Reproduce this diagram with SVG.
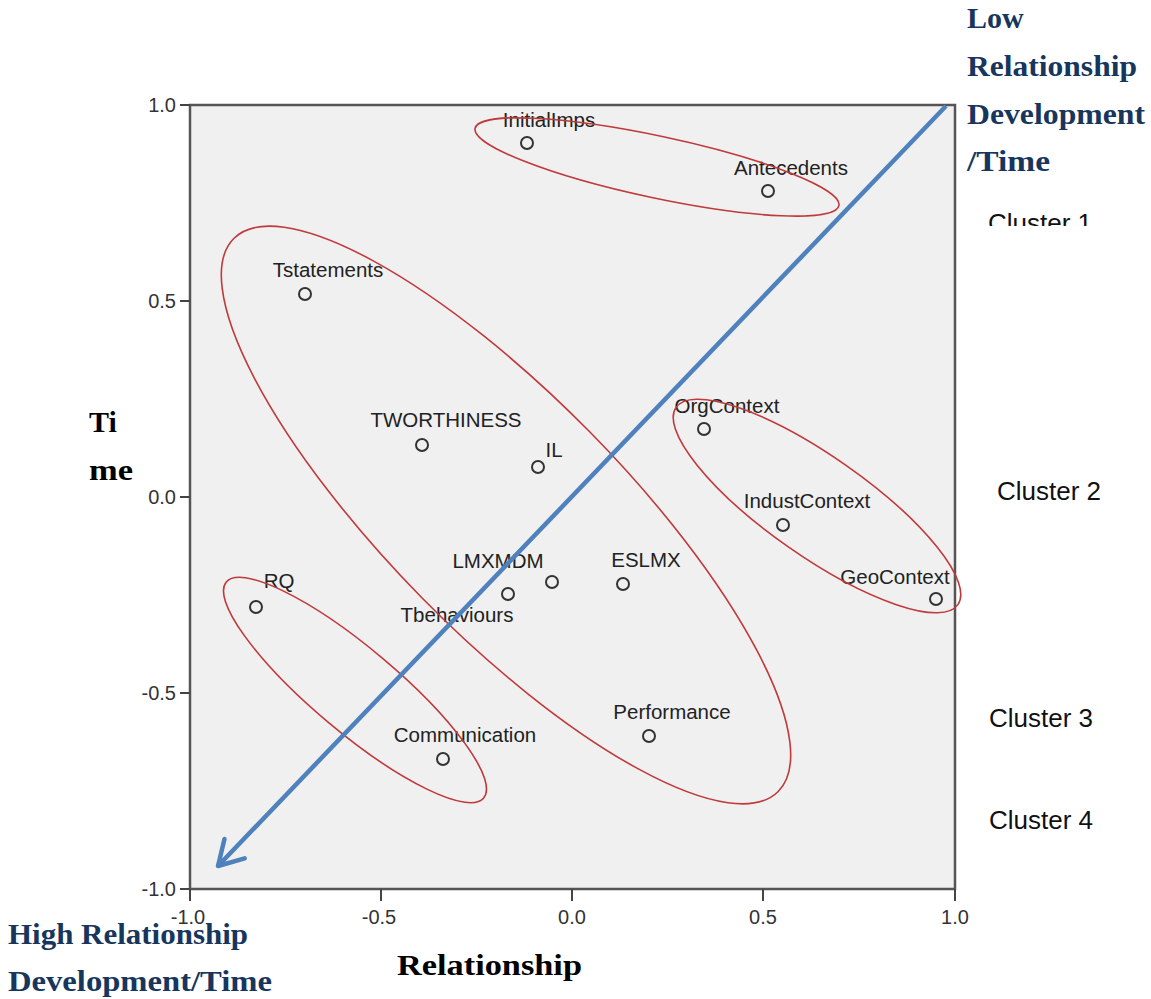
<svg xmlns="http://www.w3.org/2000/svg" width="1151" height="999" viewBox="0 0 1151 999">
<style>
.lbl{font-family:"Liberation Sans",Arial,sans-serif;font-size:20.5px;fill:#222;text-anchor:middle}
.tick{font-family:"Liberation Sans",Arial,sans-serif;font-size:20px;fill:#333}
.pt{fill:none;stroke:#333;stroke-width:2}
.ell{fill:none;stroke:#c0393b;stroke-width:1.6}
.hdr{font-family:"Liberation Serif","Times New Roman",serif;font-weight:bold;font-size:30px;fill:#17365d}
.ttl{font-family:"Liberation Serif","Times New Roman",serif;font-weight:bold;font-size:30px;fill:#000}
.cl{font-family:"Liberation Sans",Arial,sans-serif;font-size:26px;fill:#111}
.ax{stroke:#444;stroke-width:2}
</style>
<defs>
<marker id="ah" markerUnits="userSpaceOnUse" markerWidth="40" markerHeight="40" refX="0" refY="0" viewBox="-30 -20 40 40" orient="auto">
<path d="M-24,-14 L0,0 L-24,14" fill="none" stroke="#4f81bd" stroke-width="4.5" stroke-linecap="round" stroke-linejoin="round"/>
</marker>
<clipPath id="c1"><rect x="960" y="190" width="191" height="36"/></clipPath>
</defs>
<rect width="1151" height="999" fill="#fff"/>
<g id="plot">
<rect x="190" y="105" width="765" height="784" fill="#f0f0f0" stroke="#555" stroke-width="2.5"/>
<g class="ax">
<line x1="180" y1="105" x2="190" y2="105"/>
<line x1="180" y1="301" x2="190" y2="301"/>
<line x1="180" y1="497" x2="190" y2="497"/>
<line x1="180" y1="693" x2="190" y2="693"/>
<line x1="180" y1="889" x2="190" y2="889"/>
<line x1="190" y1="889" x2="190" y2="901"/>
<line x1="381" y1="889" x2="381" y2="901"/>
<line x1="572" y1="889" x2="572" y2="901"/>
<line x1="763" y1="889" x2="763" y2="901"/>
<line x1="955" y1="889" x2="955" y2="901"/>
</g>
<g class="tick" text-anchor="end">
<text x="176" y="112">1.0</text>
<text x="176" y="308">0.5</text>
<text x="176" y="504">0.0</text>
<text x="176" y="700">-0.5</text>
<text x="176" y="896">-1.0</text>
</g>
<g class="tick" text-anchor="middle">
<text x="188" y="924">-1.0</text>
<text x="379" y="924">-0.5</text>
<text x="572" y="924">0.0</text>
<text x="763" y="924">0.5</text>
<text x="955" y="924">1.0</text>
</g>
</g>
<g id="points">
<g id="InitialImps"><circle class="pt" cx="527" cy="143" r="6"/><text class="lbl" x="549" y="127">InitialImps</text></g>
<g id="Antecedents"><circle class="pt" cx="768" cy="191" r="6"/><text class="lbl" x="791" y="175">Antecedents</text></g>
<g id="Tstatements"><circle class="pt" cx="305" cy="294" r="6"/><text class="lbl" x="328" y="277">Tstatements</text></g>
<g id="TWORTHINESS"><circle class="pt" cx="422" cy="445" r="6"/><text class="lbl" x="446" y="427">TWORTHINESS</text></g>
<g id="IL"><circle class="pt" cx="538" cy="467" r="6"/><text class="lbl" x="554" y="457">IL</text></g>
<g id="OrgContext"><circle class="pt" cx="704" cy="429" r="6"/><text class="lbl" x="727" y="413">OrgContext</text></g>
<g id="IndustContext"><circle class="pt" cx="783" cy="525" r="6"/><text class="lbl" x="807" y="508">IndustContext</text></g>
<g id="GeoContext"><circle class="pt" cx="936" cy="599" r="6"/><text class="lbl" x="895" y="584">GeoContext</text></g>
<g id="LMXMDM"><circle class="pt" cx="552" cy="582" r="6"/><text class="lbl" x="498" y="568">LMXMDM</text></g>
<g id="Tbehaviours"><circle class="pt" cx="508" cy="594" r="6"/><text class="lbl" x="457" y="622">Tbehaviours</text></g>
<g id="ESLMX"><circle class="pt" cx="623" cy="584" r="6"/><text class="lbl" x="646" y="567">ESLMX</text></g>
<g id="RQ"><circle class="pt" cx="256" cy="607" r="6"/><text class="lbl" x="279" y="588">RQ</text></g>
<g id="Communication"><circle class="pt" cx="443" cy="759" r="6"/><text class="lbl" x="465" y="742">Communication</text></g>
<g id="Performance"><circle class="pt" cx="649" cy="736" r="6"/><text class="lbl" x="672" y="719">Performance</text></g>
</g>
<g id="clusters">
<ellipse class="ell" cx="657" cy="167" rx="186" ry="31" transform="rotate(12 657 167)"/>
<ellipse class="ell" cx="506" cy="515" rx="388" ry="118" transform="rotate(45.5 506 515)"/>
<ellipse class="ell" cx="817" cy="506" rx="172" ry="50" transform="rotate(35 817 506)"/>
<ellipse class="ell" cx="355" cy="690" rx="168" ry="42" transform="rotate(40 355 690)"/>
</g>
<g id="connectors">
<line x1="946" y1="106" x2="218" y2="866" stroke="#4f81bd" stroke-width="4.5" marker-end="url(#ah)"/>
</g>
<g id="labels">
<text class="hdr" x="967" y="28">Low</text>
<text class="hdr" x="967" y="76" textLength="170" lengthAdjust="spacingAndGlyphs">Relationship</text>
<text class="hdr" x="967" y="124" textLength="178" lengthAdjust="spacingAndGlyphs">Development</text>
<text class="hdr" x="967" y="171" textLength="83" lengthAdjust="spacingAndGlyphs">/Time</text>
<text class="hdr" x="8" y="944" textLength="240" lengthAdjust="spacingAndGlyphs">High Relationship</text>
<text class="hdr" x="8" y="991" textLength="264" lengthAdjust="spacingAndGlyphs">Development/Time</text>
<text class="ttl" x="397" y="975" textLength="185" lengthAdjust="spacingAndGlyphs">Relationship</text>
<text class="ttl" x="89" y="432">Ti</text>
<text class="ttl" x="89" y="480" textLength="44" lengthAdjust="spacingAndGlyphs">me</text>
<text class="cl" x="988" y="232" clip-path="url(#c1)">Cluster 1</text>
<text class="cl" x="997" y="500">Cluster 2</text>
<text class="cl" x="989" y="727">Cluster 3</text>
<text class="cl" x="989" y="829">Cluster 4</text>
</g>
</svg>
